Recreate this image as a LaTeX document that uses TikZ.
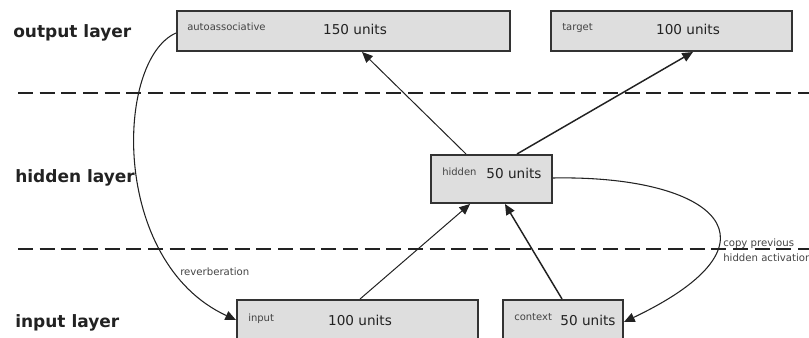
\documentclass[tikz,border=0pt]{standalone}
\usepackage{fontspec}
\setmainfont{DejaVu Sans}
\usetikzlibrary{arrows.meta}
\definecolor{boxfill}{HTML}{DEDEDE}
\definecolor{boxline}{HTML}{333333}
\definecolor{ink}{HTML}{222222}
\tikzset{
  unitbox/.style={draw=boxline, line width=1.5pt, fill=boxfill, rectangle, inner sep=0pt},
  layerlabel/.style={anchor=base west, inner sep=0pt, font=\fontsize{12.75}{15}\selectfont\bfseries, text=ink},
  boxname/.style={anchor=base west, inner sep=0pt, font=\fontsize{7.5}{9}\selectfont, text=ink!85},
  unitcount/.style={anchor=base, inner sep=0pt, font=\fontsize{10.2}{12}\selectfont, text=ink},
  note/.style={anchor=base west, inner sep=0pt, font=\fontsize{7.6}{9}\selectfont, text=ink!85},
  divider/.style={draw=ink, line width=1.5pt, dash pattern=on 11.25pt off 5pt},
  thinlink/.style={draw=ink, line width=0.75pt, -{Triangle[length=8pt,width=7pt]}},
  thicklink/.style={draw=ink, line width=1.1pt, -{Triangle[length=8pt,width=7pt]}},
  recur/.style={draw=ink, line width=0.8pt, -{Triangle[length=8pt,width=7pt]}}
}
\begin{document}
\begin{tikzpicture}[x=0.75pt,y=-0.75pt]
  \useasboundingbox (0,0) rectangle (809,338);
  \clip (0,0) rectangle (809,338);

  % layer separators
  \draw[divider] (18,93) -- (812,93);
  \draw[divider] (18,249) -- (812,249);

  % layer names
  \node[layerlabel] (lo) at (13,38) {output layer};
  \node[layerlabel] (lh) at (15,183) {hidden layer};
  \node[layerlabel] (li) at (15,327) {input layer};

  % unit groups
  \node[unitbox, minimum width=249.75pt, minimum height=30pt] (aa) at (343.5,31) {};
  \node[unitbox, minimum width=180.75pt, minimum height=30pt] (tg) at (671.5,31) {};
  \node[unitbox, minimum width=90.75pt, minimum height=36pt] (hid) at (491.5,179) {};
  \node[unitbox, minimum width=180.75pt, minimum height=45pt] (inp) at (357.5,330) {};
  \node[unitbox, minimum width=90pt, minimum height=45pt] (ctx) at (563,330) {};

  % group names and sizes
  \node[boxname] (aan) at (187,31) {autoassociative};
  \node[unitcount] (aac) at (355,35) {150 units};
  \node[boxname] (tgn) at (562,31) {target};
  \node[unitcount] (tgc) at (688,35) {100 units};
  \node[boxname] (hidn) at (442,176) {hidden};
  \node[unitcount] (hidc) at (514,179) {50 units};
  \node[boxname] (inpn) at (248,321) {input};
  \node[unitcount] (inpc) at (360,325) {100 units};
  \node[boxname] (ctxn) at (514,320) {context};
  \node[unitcount] (ctxc) at (588,325) {50 units};

  % feed-forward connections
  \draw[thinlink] ([xshift=-19.1pt]hid.north) -- ([xshift=13.9pt]aa.south);
  \draw[thicklink] ([xshift=19.1pt]hid.north) -- ([xshift=16.1pt]tg.south);
  \draw[thinlink] ([xshift=1.9pt]inp.north) -- ([xshift=-16.1pt]hid.south);
  \draw[thicklink] ([xshift=-0.75pt]ctx.north) -- ([xshift=10.1pt]hid.south);

  % recurrent connections
  \draw[recur] ([yshift=0.75pt]hid.east) .. controls (715,175) and (792,242) .. ([yshift=6pt]ctx.east);
  \draw[recur] ([yshift=-1.5pt]aa.west) .. controls (115,60) and (110,262) .. ([yshift=7.5pt]inp.west);

  % connection notes
  \node[note] (rev) at (180,275) {reverberation};
  \node[note] (cp1) at (723,246) {copy previous};
  \node[note] (cp2) at (723,261) {hidden activation};
\end{tikzpicture}
\end{document}
